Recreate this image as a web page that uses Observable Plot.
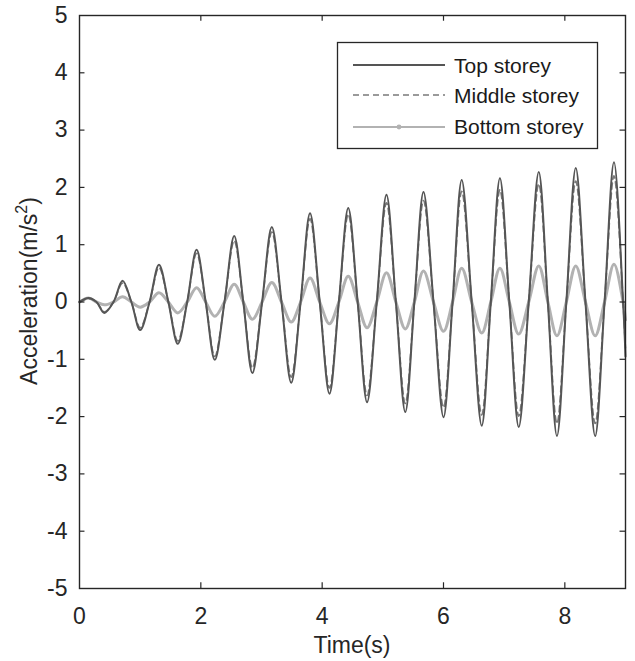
<!DOCTYPE html>
<html>
<head>
<meta charset="utf-8">
<script src="https://cdn.jsdelivr.net/npm/d3@7"></script>
<script src="https://cdn.jsdelivr.net/npm/@observablehq/plot@0.6"></script>
<style>
  html, body { margin: 0; padding: 0; background: #fff; }
  #chart svg { display: block; }
</style>
</head>
<body>
<div id="chart"></div>
<script>
// ---- Data ----
const time = [0, 0.15, 0.28, 0.41, 0.56, 0.71, 0.855, 1.00, 1.155, 1.31, 1.465, 1.62, 1.775, 1.93, 2.08, 2.23, 2.39, 2.55, 2.70, 2.85, 3.01, 3.17, 3.33, 3.49, 3.645, 3.80, 3.96, 4.12, 4.275, 4.43, 4.585, 4.74, 4.90, 5.06, 5.215, 5.37, 5.52, 5.67, 5.835, 6.00, 6.15, 6.30, 6.465, 6.63, 6.78, 6.93, 7.085, 7.24, 7.405, 7.57, 7.72, 7.87, 8.025, 8.18, 8.34, 8.50, 8.655, 8.81, 8.96, 9.0];
const topStorey = [0, 0.07, 0, -0.19, 0, 0.37, 0, -0.49, 0, 0.65, 0, -0.73, 0, 0.91, 0, -1.01, 0, 1.15, 0, -1.24, 0, 1.31, 0, -1.41, 0, 1.55, 0, -1.60, 0, 1.64, 0, -1.75, 0, 1.87, 0, -1.92, 0, 1.92, 0, -2.01, 0, 2.13, 0, -2.16, 0, 2.16, 0, -2.18, 0, 2.27, 0, -2.34, 0, 2.34, 0, -2.34, 0, 2.44, 0, -0.95];
const middleStorey = [0, 0.06, 0, -0.17, 0, 0.33, 0, -0.45, 0, 0.60, 0, -0.68, 0, 0.85, 0, -0.95, 0, 1.07, 0, -1.15, 0, 1.22, 0, -1.31, 0, 1.45, 0, -1.50, 0, 1.53, 0, -1.63, 0, 1.73, 0, -1.77, 0, 1.77, 0, -1.84, 0, 1.93, 0, -1.97, 0, 1.96, 0, -1.99, 0, 2.06, 0, -2.12, 0, 2.11, 0, -2.12, 0, 2.20, 0, -0.85];
const bottomStorey = [0, 0.07, 0, -0.05, 0, 0.09, 0, -0.09, 0, 0.16, 0, -0.19, 0, 0.25, 0, -0.25, 0, 0.31, 0, -0.30, 0, 0.34, 0, -0.35, 0, 0.42, 0, -0.38, 0, 0.45, 0, -0.45, 0, 0.51, 0, -0.47, 0, 0.54, 0, -0.51, 0, 0.59, 0, -0.54, 0, 0.59, 0, -0.56, 0, 0.63, 0, -0.59, 0, 0.63, 0, -0.59, 0, 0.66, 0, -0.31];
const seriesNames = ["Top storey", "Middle storey", "Bottom storey"];
const xTicks = [0, 2, 4, 6, 8];
const yTicks = [-5, -4, -3, -2, -1, 0, 1, 2, 3, 4, 5];
const xLabel = "Time(s)";
const yLabelMain = "Acceleration(m/s";
const yLabelSup = "2";

// ---- Build table ----
const rows = (vals) => time.map((t, i) => ({t, v: vals[i]}));
const topRows = rows(topStorey), midRows = rows(middleStorey), botRows = rows(bottomStorey);

const W = 635, H = 661;
const font = "'Liberation Sans', Arial, Helvetica, sans-serif";
const FS = 21;     // legend
const TFS = 23;    // tick labels
const LFS = 23;    // axis titles
const axisCol = "#262626";
const cTop = "#555555", cMid = "#7a7a7a", cBot = "#b2b2b2";

const chart = Plot.plot({
  width: W, height: H,
  marginLeft: 79, marginRight: 10, marginTop: 15, marginBottom: 73,
  style: {fontFamily: font, fontSize: TFS + "px", color: axisCol, background: "#fff"},
  x: {domain: [0, 9]},
  y: {domain: [-5, 5]},
  marks: [
    Plot.line(botRows, {x: "t", y: "v", stroke: cBot, strokeWidth: 3, curve: "catmull-rom"}),
    Plot.line(midRows, {x: "t", y: "v", stroke: cMid, strokeWidth: 1.7, strokeDasharray: "6,4", curve: "catmull-rom"}),
    Plot.line(topRows, {x: "t", y: "v", stroke: cTop, strokeWidth: 2, curve: "catmull-rom"}),
    // inward ticks (MATLAB style)
    Plot.ruleY(yTicks.slice(1, -1), {x1: 0, x2: 0.09, stroke: axisCol, strokeWidth: 1.2}),
    Plot.ruleY(yTicks.slice(1, -1), {x1: 8.91, x2: 9, stroke: axisCol, strokeWidth: 1.2}),
    Plot.ruleX(xTicks.slice(1), {y1: -5, y2: -4.9, stroke: axisCol, strokeWidth: 1.2}),
    Plot.ruleX(xTicks.slice(1), {y1: 5, y2: 4.9, stroke: axisCol, strokeWidth: 1.2}),
    Plot.frame({stroke: axisCol, strokeWidth: 1.4}),
    Plot.axisX(xTicks, {tickSize: 0, tickPadding: 19, label: null, tickFormat: d => String(d), fontSize: TFS}),
    Plot.axisY(yTicks, {tickSize: 0, tickPadding: 12, label: null, tickFormat: d => String(d), fontSize: TFS})
  ]
});

document.getElementById("chart").appendChild(chart);

// ---- enforce tick label font on every Plot-generated text ----
const svg = d3.select(chart);
svg.selectAll("text")
  .style("font-size", TFS + "px")
  .style("font-family", font)
  .attr("fill", axisCol);

// ---- Axis titles & legend ----
svg.append("text")
  .attr("x", 352).attr("y", 653)
  .attr("text-anchor", "middle")
  .attr("font-family", font).attr("font-size", LFS).attr("fill", axisCol)
  .text(xLabel);
const yl = svg.append("text")
  .attr("transform", "translate(37,291) rotate(-90)")
  .attr("text-anchor", "middle")
  .attr("font-family", font).attr("font-size", LFS).attr("fill", axisCol);
yl.append("tspan").text(yLabelMain);
yl.append("tspan").attr("dy", -10).attr("font-size", 16).text(yLabelSup);
yl.append("tspan").attr("dy", 10).text(")");

const lg = svg.append("g");
lg.append("rect").attr("x", 337.5).attr("y", 42.5).attr("width", 260).attr("height", 106)
  .attr("fill", "#fff").attr("stroke", axisCol).attr("stroke-width", 1.3);
const styles = [
  {stroke: cTop, w: 2, dash: null, dot: false},
  {stroke: cMid, w: 1.7, dash: "6,4", dot: false},
  {stroke: cBot, w: 2, dash: null, dot: true}
];
const lineY = [65, 95, 127];
const textY = [73, 103, 134];
seriesNames.forEach((name, i) => {
  const s = styles[i];
  const ln = lg.append("line").attr("x1", 353).attr("x2", 445).attr("y1", lineY[i]).attr("y2", lineY[i])
    .attr("stroke", s.stroke).attr("stroke-width", s.w);
  if (s.dash) ln.attr("stroke-dasharray", s.dash);
  if (s.dot) lg.append("circle").attr("cx", 399).attr("cy", lineY[i]).attr("r", 2.4).attr("fill", s.stroke);
  lg.append("text").attr("x", 454).attr("y", textY[i])
    .attr("text-anchor", "start")
    .attr("font-family", font).attr("font-size", FS).attr("fill", "#1a1a1a")
    .text(name);
});
</script>
</body>
</html>
